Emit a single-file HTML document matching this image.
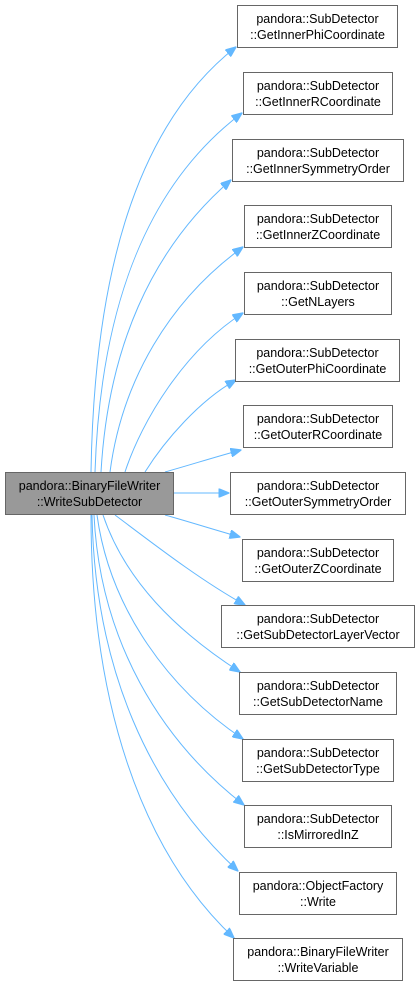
<!DOCTYPE html>
<html><head><meta charset="utf-8"><style>
html,body{margin:0;padding:0;background:#fff;}
svg{display:block}
text{font-family:"Liberation Sans",sans-serif;font-size:12.5px;fill:#000;}
</style></head><body>
<svg width="419" height="987" viewBox="0 0 419 987" xmlns="http://www.w3.org/2000/svg">
<defs>
<marker id="a" markerWidth="11" markerHeight="9" refX="10.5" refY="4.5" orient="auto" markerUnits="userSpaceOnUse">
<path d="M0,0 L11,4.5 L0,9 Z" fill="#63b8ff" stroke="#63b8ff"/>
</marker>
</defs>
<g fill="none" stroke="#63b8ff" stroke-width="1" marker-end="url(#a)">
<path d="M91,472 C94,290 130,130 236,47"/>
<path d="M95,472 C100,320 140,190 242,113"/>
<path d="M101,472 C108,350 150,250 231,180"/>
<path d="M110,472 C122,380 170,300 243,247"/>
<path d="M125,472 C142,420 185,350 243,313"/>
<path d="M145,472 C165,440 200,400 236,380"/>
<path d="M165,472 C190,465 215,457 241,450"/>
<path d="M174,493 L229,493"/>
<path d="M165,515 C190,522 215,530 240,537"/>
<path d="M115,515 C155,545 200,580 245,605"/>
<path d="M103,515 C125,580 175,630 240,672"/>
<path d="M97,515 C110,610 170,690 243,739"/>
<path d="M94,515 C100,640 160,740 244,805"/>
<path d="M92,515 C95,670 150,790 238,871"/>
<path d="M91,515 C91,700 140,850 234,938"/>
</g>
<g stroke="#666" stroke-width="1" fill="#fff">
<rect x="5.5" y="472.5" width="168" height="42" fill="#999"/>
<rect x="237.5" y="5.5" width="160" height="42"/>
<rect x="243.5" y="72.5" width="149" height="42"/>
<rect x="232.5" y="139.5" width="171" height="42"/>
<rect x="244.5" y="205.5" width="147" height="42"/>
<rect x="244.5" y="272.5" width="147" height="42"/>
<rect x="235.5" y="339.5" width="164" height="42"/>
<rect x="243.5" y="405.5" width="149" height="42"/>
<rect x="230.5" y="472.5" width="175" height="42"/>
<rect x="242.5" y="539.5" width="151" height="42"/>
<rect x="221.5" y="605.5" width="193" height="42"/>
<rect x="239.5" y="672.5" width="157" height="42"/>
<rect x="242.5" y="739.5" width="151" height="42"/>
<rect x="244.5" y="805.5" width="147" height="42"/>
<rect x="239.5" y="872.5" width="157" height="42"/>
<rect x="233.5" y="938.5" width="169" height="42"/>
</g>
<g text-anchor="middle">
<text x="89.5" y="490">pandora::BinaryFileWriter</text><text x="89.5" y="506">::WriteSubDetector</text>
<text x="317.5" y="23">pandora::SubDetector</text><text x="317.5" y="39">::GetInnerPhiCoordinate</text>
<text x="318" y="90">pandora::SubDetector</text><text x="318" y="106">::GetInnerRCoordinate</text>
<text x="318" y="157">pandora::SubDetector</text><text x="318" y="173">::GetInnerSymmetryOrder</text>
<text x="318" y="223">pandora::SubDetector</text><text x="318" y="239">::GetInnerZCoordinate</text>
<text x="318" y="290">pandora::SubDetector</text><text x="318" y="306">::GetNLayers</text>
<text x="317.5" y="357">pandora::SubDetector</text><text x="317.5" y="373">::GetOuterPhiCoordinate</text>
<text x="318" y="423">pandora::SubDetector</text><text x="318" y="439">::GetOuterRCoordinate</text>
<text x="318" y="490">pandora::SubDetector</text><text x="318" y="506">::GetOuterSymmetryOrder</text>
<text x="318" y="557">pandora::SubDetector</text><text x="318" y="573">::GetOuterZCoordinate</text>
<text x="318" y="623">pandora::SubDetector</text><text x="318" y="639">::GetSubDetectorLayerVector</text>
<text x="318" y="690">pandora::SubDetector</text><text x="318" y="706">::GetSubDetectorName</text>
<text x="318" y="757">pandora::SubDetector</text><text x="318" y="773">::GetSubDetectorType</text>
<text x="318" y="823">pandora::SubDetector</text><text x="318" y="839">::IsMirroredInZ</text>
<text x="318" y="890">pandora::ObjectFactory</text><text x="318" y="906">::Write</text>
<text x="318" y="956">pandora::BinaryFileWriter</text><text x="318" y="972">::WriteVariable</text>
</g>
</svg>
</body></html>
